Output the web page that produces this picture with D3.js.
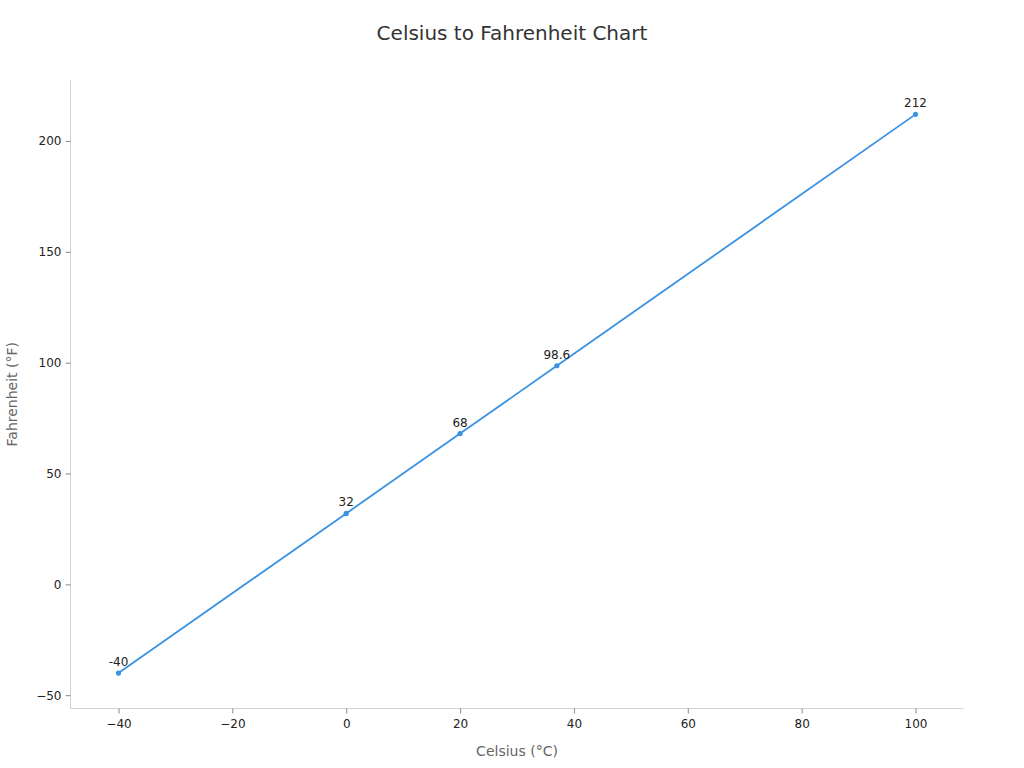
<!DOCTYPE html>
<html><head><meta charset="utf-8">
<script src="https://cdn.jsdelivr.net/npm/d3@7"></script>
<style>body{margin:0;background:#fff;font-family:"DejaVu Sans",sans-serif;}</style>
</head><body><svg id="c" width="1024" height="768"></svg>
<script>
const celsius = [-40, 0, 20, 37, 100];
const fahrenheit = [-40, 32, 68, 98.6, 212];
const pointLabels = ["-40", "32", "68", "98.6", "212"];
const xTicks = [-40, -20, 0, 20, 40, 60, 80, 100];
const yTicks = [-50, 0, 50, 100, 150, 200];

const svg = d3.select("#c");
const L = 70.5, R = 963.5, T = 80, B = 708.5;
const x = d3.scaleLinear().domain([-48.43, 108.43]).range([L, R]);
const y = d3.scaleLinear().domain([-56, 227.5]).range([B, T]);
const fmt = v => v < 0 ? "\u2212" + Math.abs(v) : String(v);

svg.append("text").attr("x", 512).attr("y", 40).attr("text-anchor", "middle")
  .attr("font-size", 20).attr("fill", "#333").text("Celsius to Fahrenheit Chart");

const gx = svg.append("g").attr("transform", `translate(0,${B})`)
  .call(d3.axisBottom(x).tickValues(xTicks).tickFormat(fmt).tickSize(5).tickPadding(6));
const gy = svg.append("g").attr("transform", `translate(${L},0)`)
  .call(d3.axisLeft(y).tickValues(yTicks).tickFormat(fmt).tickSize(5).tickPadding(4));
[gx, gy].forEach(g => {
  g.select(".domain").attr("stroke", "#d0d0d0");
  g.selectAll(".tick line").attr("stroke", "#888");
  g.selectAll(".tick text").attr("font-size", 12).attr("fill", "#222")
    .attr("font-family", "DejaVu Sans");
});
gx.select(".domain").attr("d", `M${L},0H${R}`);
gy.select(".domain").attr("d", `M0,${T}V${B}`);

svg.append("text").attr("x", (L + R) / 2).attr("y", 756).attr("text-anchor", "middle")
  .attr("font-size", 14).attr("fill", "#666").text("Celsius (°C)");
svg.append("text").attr("transform", `translate(17,${(T + B) / 2}) rotate(-90)`)
  .attr("text-anchor", "middle").attr("font-size", 14).attr("fill", "#666").text("Fahrenheit (°F)");

const data = celsius.map((c, i) => ({c, f: fahrenheit[i], l: pointLabels[i]}));
svg.append("path").datum(data)
  .attr("d", d3.line().x(d => x(d.c)).y(d => y(d.f)))
  .attr("fill", "none").attr("stroke", "#3a92e4").attr("stroke-width", 1.8);
svg.selectAll("circle.p").data(data).join("circle")
  .attr("cx", d => x(d.c)).attr("cy", d => y(d.f)).attr("r", 2.6).attr("fill", "#3a92e4");
svg.selectAll("text.pl").data(data).join("text")
  .attr("x", d => x(d.c)).attr("y", d => y(d.f) - 7).attr("text-anchor", "middle")
  .attr("font-size", 12).attr("fill", "#222").text(d => d.l);
</script></body></html>
